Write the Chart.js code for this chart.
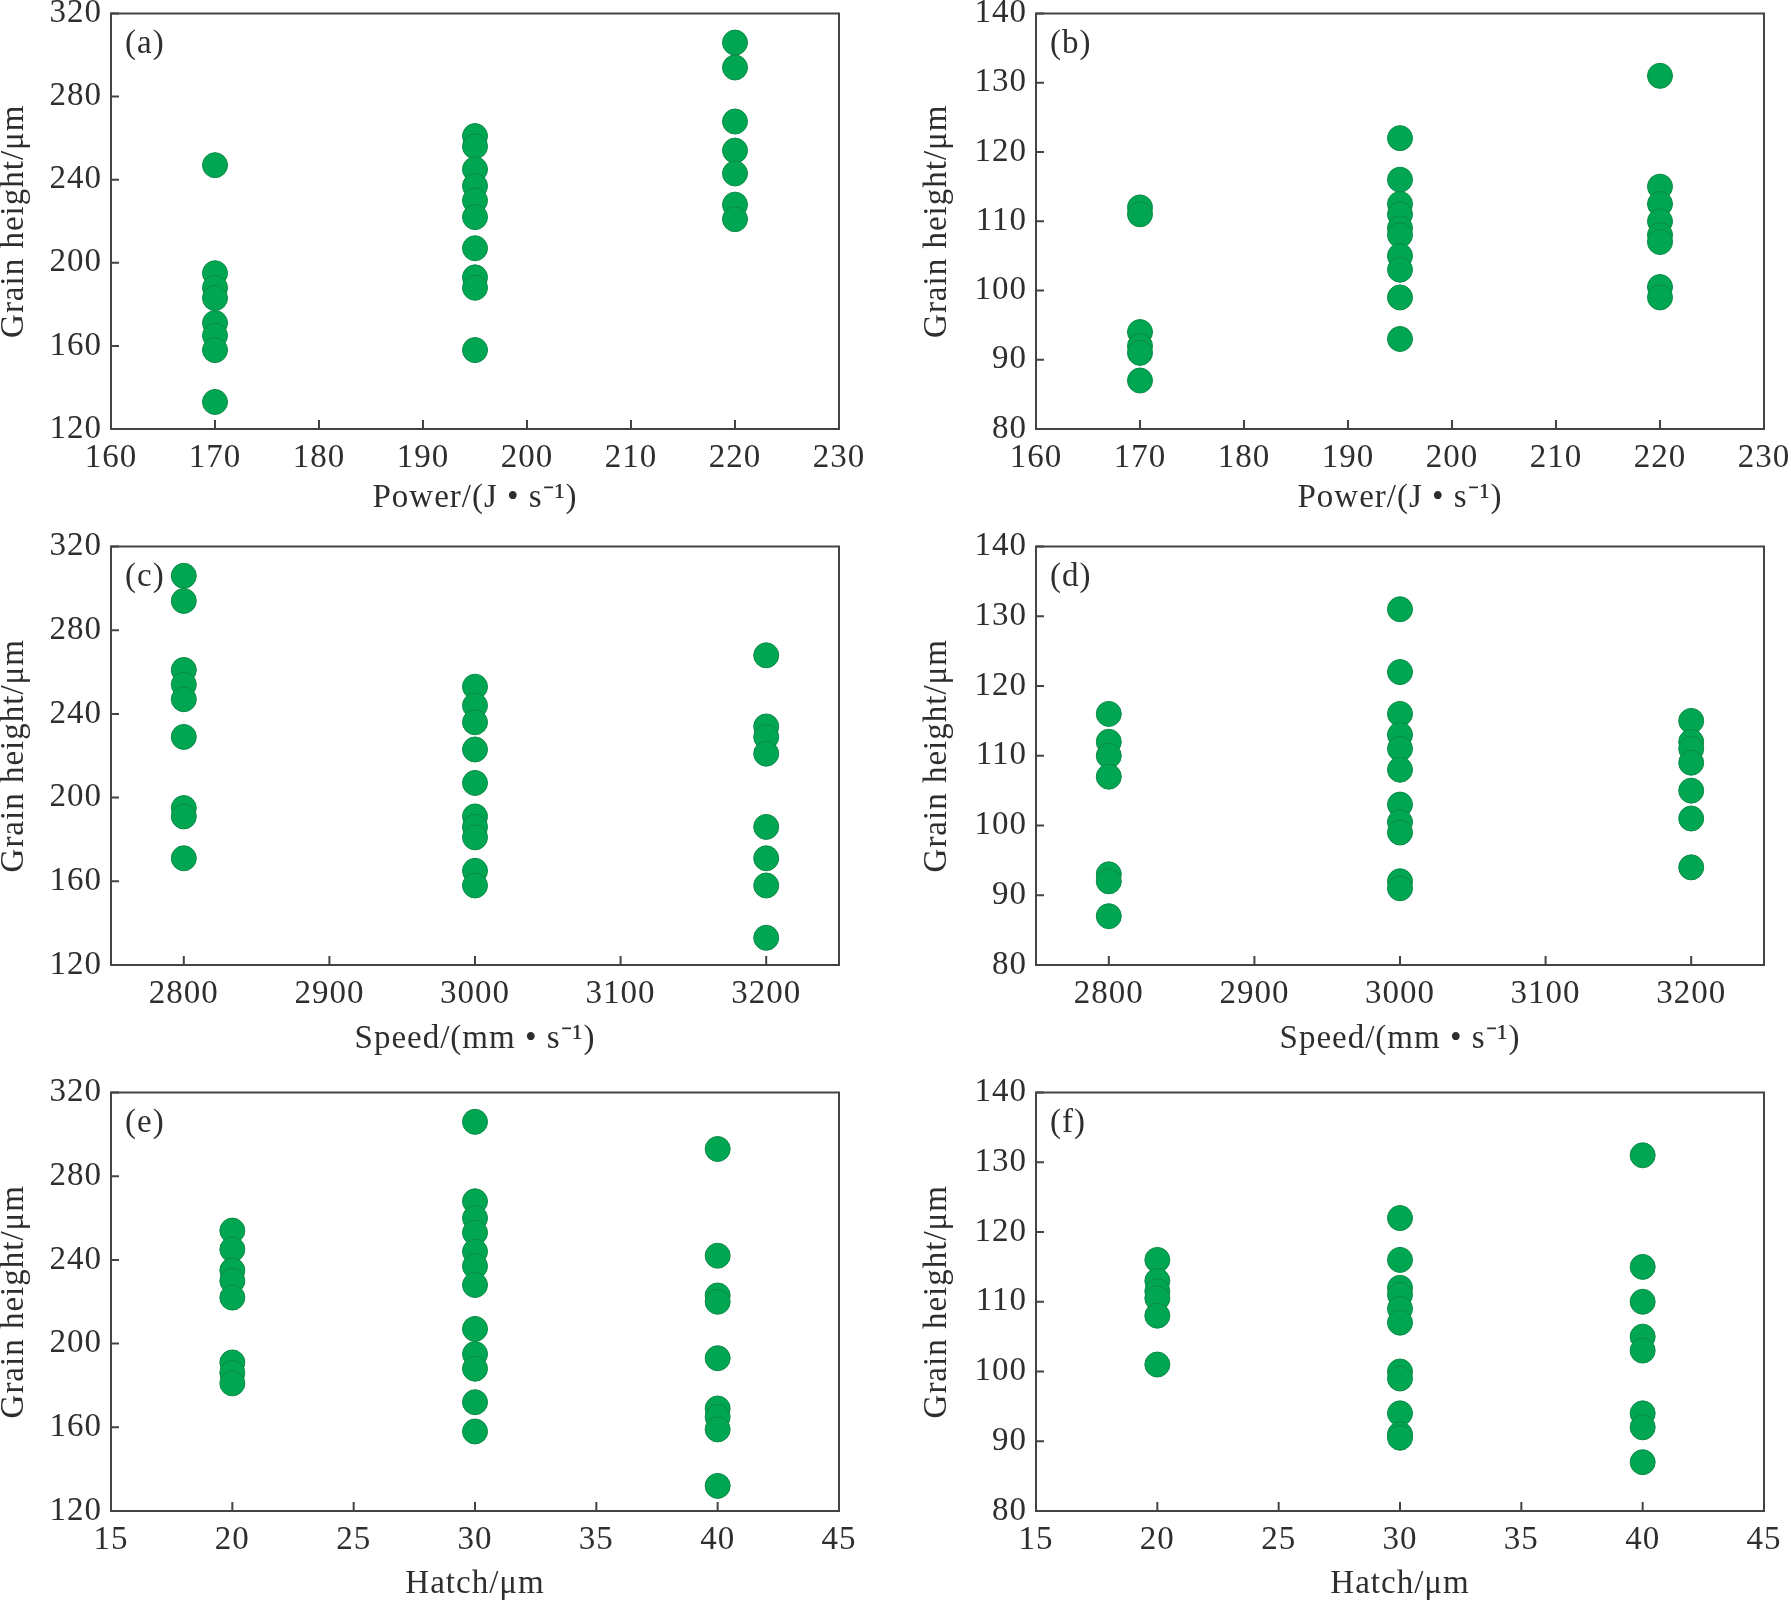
<!DOCTYPE html>
<html>
<head>
<meta charset="utf-8">
<script src="https://cdn.jsdelivr.net/npm/chart.js@4.4.1/dist/chart.umd.min.js"></script>
<style>
  body { margin: 0; background: #fff; width: 1791px; height: 1601px; overflow: hidden; position: relative; }
  .panel { position: absolute; }
</style>
</head>
<body>
<div class="panel" style="left:0;top:0;width:895px;height:529px"><canvas id="chart-a"></canvas></div>
<div class="panel" style="left:895px;top:0;width:896px;height:529px"><canvas id="chart-b"></canvas></div>
<div class="panel" style="left:0;top:533px;width:895px;height:532px"><canvas id="chart-c"></canvas></div>
<div class="panel" style="left:895px;top:533px;width:896px;height:532px"><canvas id="chart-d"></canvas></div>
<div class="panel" style="left:0;top:1079px;width:895px;height:532px"><canvas id="chart-e"></canvas></div>
<div class="panel" style="left:895px;top:1079px;width:896px;height:532px"><canvas id="chart-f"></canvas></div>
<script>
// x levels and tick labels
const powerLevels = [170, 195, 220];
const speedLevels = [2800, 3000, 3200];
const hatchLevels = [20, 30, 40];
const powerTicks = [160, 170, 180, 190, 200, 210, 220, 230];
const speedTicks = [2800, 2900, 3000, 3100, 3200];
const hatchTicks = [15, 20, 25, 30, 35, 40, 45];
const heightTicksLeft = [120, 160, 200, 240, 280, 320];
const heightTicksRight = [80, 90, 100, 110, 120, 130, 140];

// (a) grain height vs power
const heightA_170 = [247, 195, 188, 183, 171, 165, 158, 133];
const heightA_195 = [261, 256, 245, 237, 230, 222, 207, 193, 188, 158];
const heightA_220 = [306, 294, 268, 254, 243, 228, 221];
// (b)
const heightB_170 = [112, 111, 94, 92, 91, 87];
const heightB_195 = [122, 116, 112.5, 111, 109, 108, 105, 103, 99, 93];
const heightB_220 = [131, 115, 112.5, 110, 108, 107, 100.5, 99];
// (c) grain height vs speed
const heightC_2800 = [306, 294, 261, 254, 247, 229, 195, 191, 171];
const heightC_3000 = [253, 244, 236, 223, 207, 191, 186, 181, 165, 158];
const heightC_3200 = [268, 234, 229, 221, 186, 171, 158, 133];
// (d)
const heightD_2800 = [116, 112, 110, 107, 93, 92, 87];
const heightD_3000 = [131, 122, 116, 113, 111, 108, 103, 100.5, 99, 92, 91];
const heightD_3200 = [115, 112, 111, 109, 105, 101, 94];
// (e) grain height vs hatch
const heightE_20 = [254, 245, 235, 230, 222, 191, 186, 181];
const heightE_30 = [306, 268, 260, 253, 244, 237, 228, 207, 195, 188, 172, 158];
const heightE_40 = [293, 242, 223, 220, 193, 169, 165, 159, 132];
// (f)
const heightF_20 = [116, 113, 111.5, 110.5, 108, 101];
const heightF_30 = [122, 116, 112, 111, 109, 107, 100, 99, 94, 91, 90.5];
const heightF_40 = [131, 115, 110, 105, 103, 94, 92, 87];

const FONT = '"Liberation Serif", "Times New Roman", serif';
const TXT = '#2e2e2e';
const AXIS = '#444';
const GREEN = '#00a651';

//border, inward ticks and the panel letter
const framePlugin = {
  id: 'frame',
  beforeDraw(chart) {
    chart.ctx.letterSpacing = '1px';
  },
  afterDraw(chart, args, opts) {
    const {ctx, chartArea: a} = chart;
    const x = chart.scales.x, y = chart.scales.y;
    ctx.save();
    ctx.strokeStyle = AXIS;
    ctx.lineWidth = 2;
    ctx.strokeRect(a.left, a.top, a.right - a.left, a.bottom - a.top);
    ctx.beginPath();
    x.ticks.forEach(t => {
      const px = x.getPixelForValue(t.value);
      ctx.moveTo(px, a.bottom);
      ctx.lineTo(px, a.bottom - 9);
    });
    y.ticks.forEach(t => {
      const py = y.getPixelForValue(t.value);
      ctx.moveTo(a.left, py);
      ctx.lineTo(a.left + 8, py);
    });
    ctx.stroke();
    ctx.fillStyle = TXT;
    ctx.font = '33px ' + FONT;
    ctx.textBaseline = 'middle';
    ctx.textAlign = 'left';
    ctx.fillText(opts.label, a.left + 14, a.top + 31);
    ctx.restore();
  }
};

function makeChart(id, label, levels, groups, xTicks, xMin, xMax, yTicks, xTitle, rightCol, titlePad, xHeight) {
  const points = [];
  levels.forEach((lv, i) => groups[i].forEach(v => points.push({x: lv, y: v})));
  const yWidth = rightCol ? 141 : 111;
  return new Chart(document.getElementById(id), {
    type: 'scatter',
    data: {
      datasets: [{
        data: points,
        backgroundColor: GREEN,
        borderColor: '#0b8a47',
        borderWidth: 1,
        pointRadius: 12.5,
        pointHoverRadius: 12.5
      }]
    },
    options: {
      responsive: true,
      maintainAspectRatio: false,
      animation: false,
      layout: {padding: {top: 12, right: rightCol ? 27 : 56, left: 0, bottom: 0}},
      plugins: {
        legend: {display: false},
        tooltip: {enabled: false},
        frame: {label: label}
      },
      scales: {
        x: {
          type: 'linear',
          min: xMin,
          max: xMax,
          afterBuildTicks: s => { s.ticks = xTicks.map(v => ({value: v})); },
          afterFit: s => { s.height = xHeight; s.paddingLeft = 0; s.paddingRight = 0; },
          grid: {display: false, drawTicks: false},
          border: {display: false},
          ticks: {
            padding: 10, autoSkip: false, maxRotation: 0, color: TXT,
            font: {family: FONT, size: 33},
            callback: v => String(v)
          },
          title: {
            display: true, text: xTitle, color: TXT,
            font: {family: FONT, size: 33, lineHeight: 1},
            padding: {top: 0, bottom: titlePad}
          }
        },
        y: {
          type: 'linear',
          min: yTicks[0],
          max: yTicks[yTicks.length - 1],
          afterBuildTicks: s => { s.ticks = yTicks.map(v => ({value: v})); },
          afterFit: s => { s.width = yWidth; s.paddingTop = 0; s.paddingBottom = 0; },
          grid: {display: false, drawTicks: false},
          border: {display: false},
          ticks: {
            padding: 9, autoSkip: false, color: TXT,
            font: {family: FONT, size: 33},
            callback: v => String(v)
          },
          title: {
            display: true, text: 'Grain height/μm', color: TXT,
            font: {family: FONT, size: 33, lineHeight: 0.85},
            padding: {top: rightCol ? 28 : 0, bottom: 0}
          }
        }
      }
    },
    plugins: [framePlugin]
  });
}

makeChart('chart-a', '(a)', powerLevels, [heightA_170, heightA_195, heightA_220],
  powerTicks, 160, 230, heightTicksLeft, 'Power/(J • s⁻¹)', false, 14, 100);
makeChart('chart-b', '(b)', powerLevels, [heightB_170, heightB_195, heightB_220],
  powerTicks, 160, 230, heightTicksRight, 'Power/(J • s⁻¹)', true, 14, 100);
makeChart('chart-c', '(c)', speedLevels, [heightC_2800, heightC_3000, heightC_3200],
  speedTicks, 2750, 3250, heightTicksLeft, 'Speed/(mm • s⁻¹)', false, 9, 100);
makeChart('chart-d', '(d)', speedLevels, [heightD_2800, heightD_3000, heightD_3200],
  speedTicks, 2750, 3250, heightTicksRight, 'Speed/(mm • s⁻¹)', true, 9, 100);
makeChart('chart-e', '(e)', hatchLevels, [heightE_20, heightE_30, heightE_40],
  hatchTicks, 15, 45, heightTicksLeft, 'Hatch/μm', false, 10, 100);
makeChart('chart-f', '(f)', hatchLevels, [heightF_20, heightF_30, heightF_40],
  hatchTicks, 15, 45, heightTicksRight, 'Hatch/μm', true, 10, 100);
</script>
</body>
</html>
